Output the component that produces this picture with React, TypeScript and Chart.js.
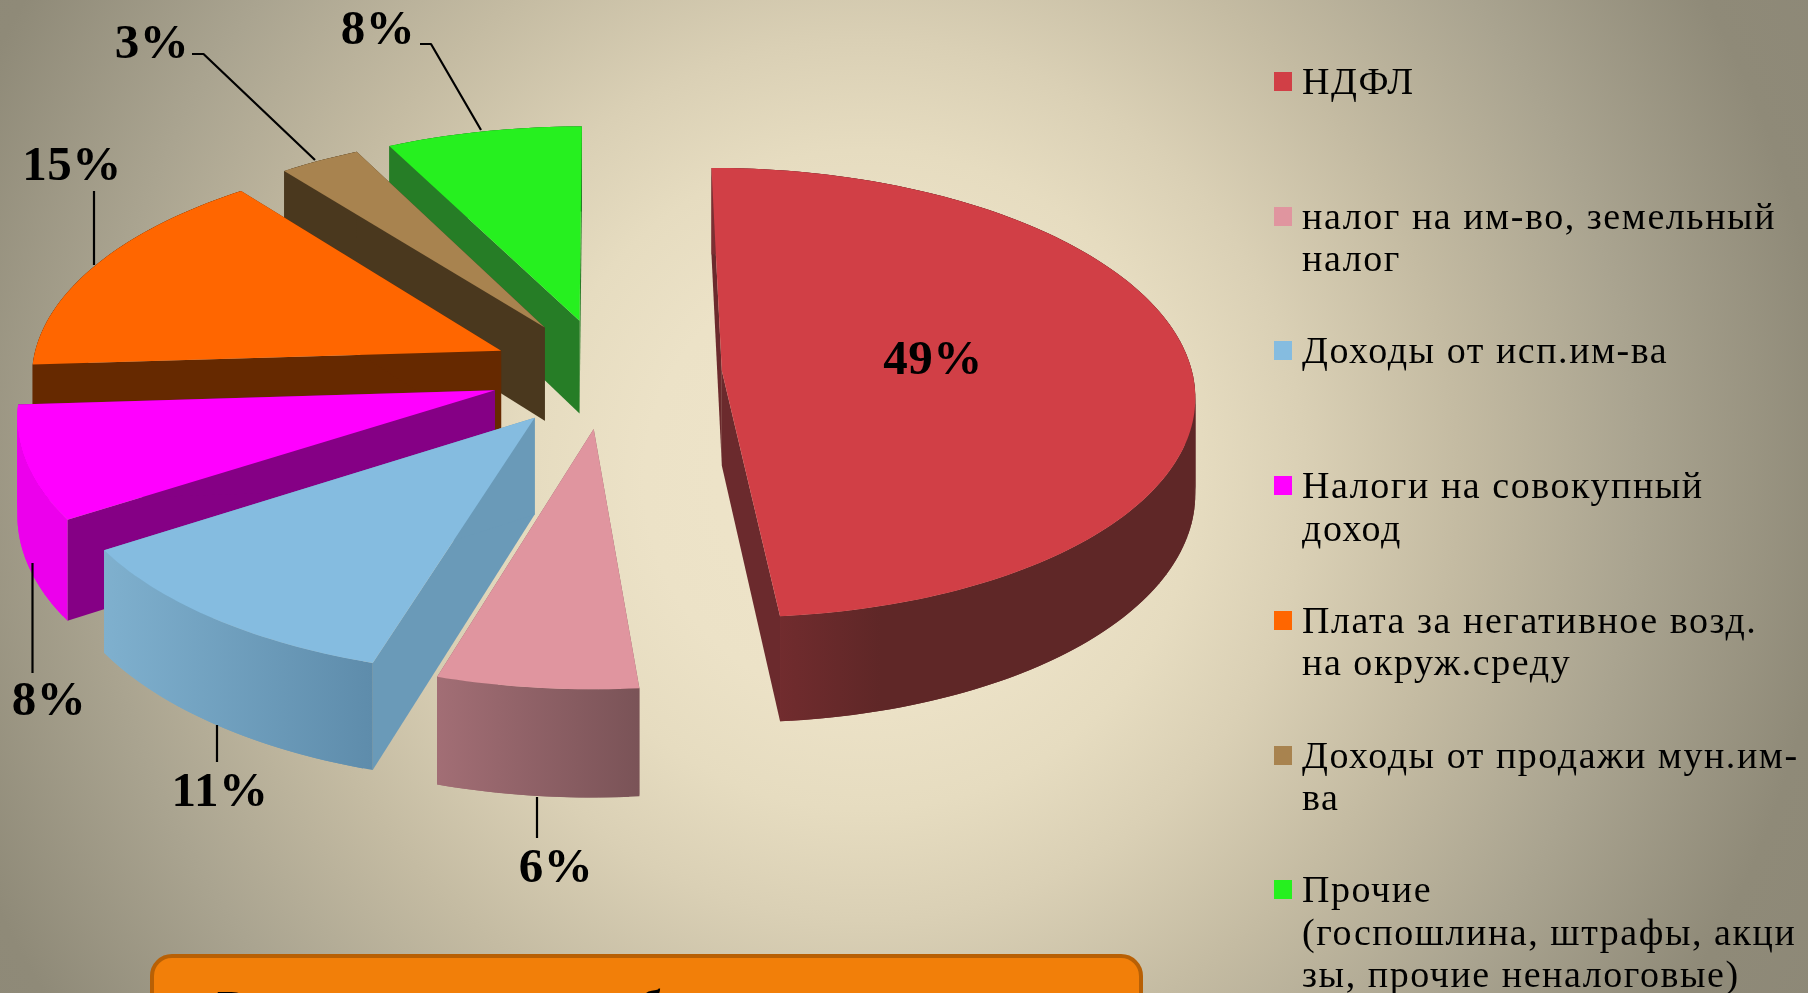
import React, { useEffect, useRef } from "react";
import { Chart, registerables } from "chart.js";

Chart.register(...registerables);

const categories = [
  "НДФЛ",
  "налог на им-во, земельный\nналог",
  "Доходы от исп.им-ва",
  "Налоги на совокупный\nдоход",
  "Плата за негативное возд.\nна окруж.среду",
  "Доходы от продажи мун.им-\nва",
  "Прочие\n(госпошлина, штрафы, акци\nзы, прочие неналоговые)",
];
const shares = [48.6, 6.1, 11.2, 8.1, 15.4, 3.1, 7.5];
const topColors = ["#d13f46", "#e0959f", "#85bce0", "#ff00ff", "#ff6600", "#a8834f", "#26f01f"];
const cutColors = ["#6b2a2d", "#8a5c62", "#6a9ab8", "#850085", "#662900", "#4a381e", "#267d26"];
const rimLeft = ["#7d2f33", "#a26e75", "#7fb0ce", "#ec00ec", "#662900", "#4a381e", "#267d26"];
const rimRight = ["#5f2727", "#7a5357", "#5e8cab", "#ec00ec", "#662900", "#4a381e", "#267d26"];

// one leader line per slice: polyline, then where its percent label sits
const leaderPaths = [
  [],
  [[537, 797], [537, 838]],
  [[217, 725], [217, 762]],
  [[32.5, 563], [32.5, 673]],
  [[94, 191], [94, 265]],
  [[192, 54], [203.5, 54], [315, 160]],
  [[420, 44], [431, 44], [481, 130]],
];
const labelCenters = [
  [933, 361],
  [556, 869],
  [220, 793],
  [49, 702],
  [72, 167],
  [152, 45],
  [378, 31],
];

// perspective of the tilted pie, in page pixels
const view = { cx: 606, cy: 373, rx: 470.5, ry: 223, k: 0.098, depth: 95 };

const pie3d = {
  id: "pie3d",
  beforeDatasetDraw(chart: any, args: any) {
    const ctx = chart.ctx as CanvasRenderingContext2D;
    const arcs = chart.getDatasetMeta(args.index).data;
    const project = (p: [number, number], down: boolean): [number, number] => {
      const w = 1 + view.k * p[1];
      return [view.cx + (view.rx * p[0]) / w, view.cy + (-view.ry * p[1] + (down ? view.depth : 0)) / w];
    };
    const fillPath = (points: [number, number][], fill: any) => {
      ctx.beginPath();
      points.forEach((q, s) => (s === 0 ? ctx.moveTo(q[0], q[1]) : ctx.lineTo(q[0], q[1])));
      ctx.closePath();
      ctx.fillStyle = fill;
      ctx.fill();
    };
    const order = arcs.map((_: any, i: number) => i).reverse();
    for (const i of order) {
      const arc = arcs[i];
      const { startAngle, endAngle, outerRadius } = arc.getProps(["startAngle", "endAngle", "outerRadius"], true);
      const off = arc.options.offset / outerRadius;
      const mid = (startAngle + endAngle) / 2;
      const ox = Math.cos(mid) * off;
      const oz = -Math.sin(mid) * off;
      const centre: [number, number] = [ox, oz];
      const rim: [number, number][] = [];
      const n = Math.max(4, Math.ceil((endAngle - startAngle) / 0.02));
      for (let s = 0; s <= n; s++) {
        const a = startAngle + ((endAngle - startAngle) * s) / n;
        rim.push([ox + Math.cos(a), oz - Math.sin(a)]);
      }
      // the two cut faces
      for (const edge of [rim[0], rim[rim.length - 1]]) {
        fillPath(
          [project(centre, false), project(edge, false), project(edge, true), project(centre, true)],
          cutColors[i]
        );
      }
      // the outer wall, shaded across its width; strips overlap so no seams show
      const tops = rim.map((p) => project(p, false));
      const downs = rim.map((p) => project(p, true));
      const xs = tops.map((p) => p[0]);
      const grad = ctx.createLinearGradient(Math.min(...xs), 0, Math.max(...xs), 0);
      grad.addColorStop(0, rimLeft[i]);
      grad.addColorStop(i === 0 ? 0.35 : 1, rimRight[i]);
      for (let s = 0; s < n; s++) {
        const e = Math.min(n, s + 2);
        fillPath([tops[s], tops[e], downs[e], downs[s]], grad);
      }
      // the top face
      fillPath([project(centre, false), ...tops], arc.options.backgroundColor);
    }
    // leader lines and percent labels
    ctx.save();
    ctx.strokeStyle = "#000";
    ctx.lineWidth = 2.2;
    ctx.lineJoin = "round";
    leaderPaths.forEach((path) => {
      if (!path.length) return;
      ctx.beginPath();
      path.forEach((p, j) => (j === 0 ? ctx.moveTo(p[0], p[1]) : ctx.lineTo(p[0], p[1])));
      ctx.stroke();
    });
    ctx.fillStyle = "#000";
    ctx.font = 'bold 49px "Liberation Serif", serif';
    (ctx as any).letterSpacing = "0.5px";
    ctx.textAlign = "center";
    ctx.textBaseline = "middle";
    shares.forEach((v, i) => ctx.fillText(`${Math.round(v)}%`, labelCenters[i][0], labelCenters[i][1]));
    ctx.restore();
    return false;
  },
};

export default function App() {
  const ref = useRef<HTMLCanvasElement>(null);
  useEffect(() => {
    const chart = new Chart(ref.current as HTMLCanvasElement, {
      type: "pie",
      data: {
        labels: categories,
        datasets: [{ data: shares, backgroundColor: topColors, borderWidth: 0, offset: 109 }],
      },
      options: {
        responsive: false,
        animation: false,
        events: [],
        layout: { padding: 0 },
        plugins: { legend: { display: false }, tooltip: { enabled: false } },
      },
      plugins: [pie3d],
    } as any);
    return () => chart.destroy();
  }, []);
  return (
    <div
      style={{
        position: "fixed",
        inset: 0,
        width: 1808,
        height: 993,
        overflow: "hidden",
        background:
          "radial-gradient(circle 1100px at 865px 480px, #efe5ca 0%, #ece2c7 20%, #e6dcc0 30%, #dad0b5 40%, #c4bba2 54%, #aaa490 70%, #8f8a78 88%, #8d8877 100%)",
      }}
    >
      <canvas ref={ref} width={1808} height={993} style={{ position: "absolute", left: 0, top: 0 }} />
      {categories.map((c, i) => (
        <React.Fragment key={c}>
          <div style={{ position: "absolute", left: 1274, top: 72 + i * 134.7, width: 18, height: 19, background: topColors[i] }} />
          <div
            style={{
              position: "absolute",
              left: 1302,
              top: 60 + i * 134.7,
              whiteSpace: "pre",
              font: '38px/42.5px "Liberation Serif", serif',
              letterSpacing: 1.55,
              color: "#000",
            }}
          >
            {c}
          </div>
        </React.Fragment>
      ))}
      <div
        style={{
          position: "absolute",
          left: 150,
          top: 954,
          width: 993,
          height: 80,
          boxSizing: "border-box",
          background: "#f27f09",
          border: "4px solid #b86005",
          borderRadius: 22,
          textAlign: "left",
          whiteSpace: "nowrap",
          font: 'bold 44px/50px "Liberation Serif", serif',
          letterSpacing: 1.8,
          color: "#000",
          paddingTop: 24,
          paddingLeft: 63,
        }}
      >
        Возможные доходы бюджета поселения
      </div>
    </div>
  );
}
